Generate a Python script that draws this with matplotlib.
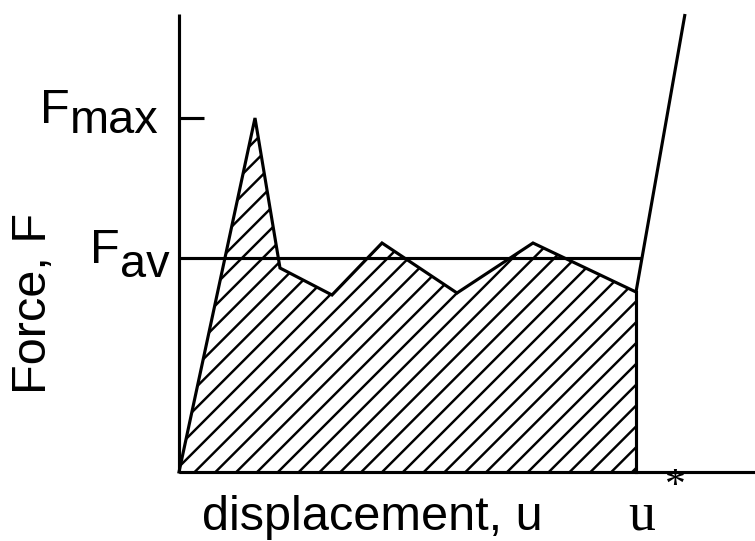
import numpy as np
import matplotlib
matplotlib.use("Agg")
import matplotlib.pyplot as plt

# Force-displacement curve of a crushing tube (arbitrary units)
u_curve = [0.0, 0.76, 1.01, 1.53, 2.03, 2.78, 3.54, 4.57]
F_curve = [0.0, 3.54, 2.04, 1.77, 2.29, 1.79, 2.29, 1.80]
# densification branch after u*
u_dense = [4.57, 5.06]
F_dense = [1.80, 4.58]

F_max = 3.54
F_av = 2.14
u_star = 4.57

# dpi 125 gives a slightly finer hatch spacing than the default 100
plt.rcParams["hatch.linewidth"] = 1.4
plt.rcParams["font.family"] = ["Liberation Sans", "DejaVu Sans"]

fig = plt.figure(figsize=(6.04, 4.328), dpi=125)
ax = fig.add_axes([0, 0, 1, 1])
ax.set_xlim(-1.79, 5.76)
ax.set_ylim(-0.69, 4.72)
ax.axis("off")

lw = 1.8
# axes lines
ax.plot([0, 0], [0, 4.58], color="black", lw=lw, solid_capstyle="butt")
ax.plot([0, 5.76], [0, 0], color="black", lw=lw, solid_capstyle="butt")
ax.plot([0, 0.25], [F_max, F_max], color="black", lw=lw, solid_capstyle="butt")

# absorbed energy (hatched area under the curve up to u*)
poly_u = u_curve + [u_star]
poly_F = F_curve + [0.0]
ax.fill(poly_u, poly_F, facecolor="none", edgecolor="black", hatch="//", lw=0)

ax.plot(u_curve, F_curve, color="black", lw=lw, solid_joinstyle="miter")
ax.plot(u_dense, F_dense, color="black", lw=lw, solid_capstyle="butt")
ax.plot([u_star, u_star], [0, F_curve[-1]], color="black", lw=lw)

# mean force line up to where it meets the densification branch
u_end = np.interp(F_av, F_dense, u_dense)
ax.plot([0, u_end], [F_av, F_av], color="black", lw=lw, solid_capstyle="butt")

# labels
ax.text(-1.39, 3.49, "F", fontsize=28, ha="left", va="baseline")
ax.text(-1.09, 3.39, "max", fontsize=27, ha="left", va="baseline")
ax.text(-0.89, 2.09, "F", fontsize=28, ha="left", va="baseline")
ax.text(-0.59, 1.95, "av", fontsize=27, ha="left", va="baseline")
ax.text(-1.45, 1.69, "Force, F", fontsize=28, rotation=90, ha="center", va="center")
ax.text(0.23, -0.58, "displacement, u", fontsize=28, ha="left", va="baseline")
ax.text(4.49, -0.57, "u", fontsize=31, family="Liberation Serif", ha="left", va="baseline")
ax.text(4.96, -0.15, "*", fontsize=24, family="Liberation Serif", ha="center", va="center")

fig.savefig("out.png", dpi=125)
